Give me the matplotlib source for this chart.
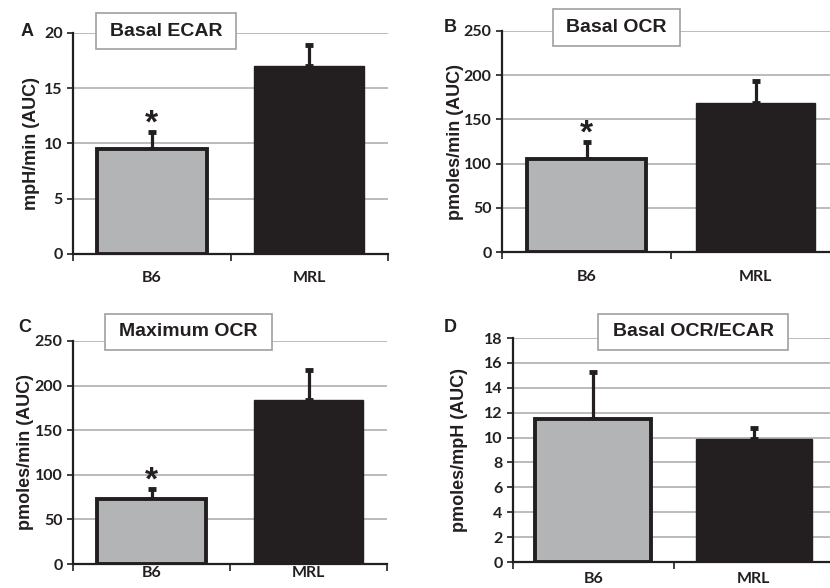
import matplotlib
matplotlib.use("Agg")
import matplotlib.pyplot as plt
from matplotlib.patches import Rectangle

W, H = 830, 588

groups = ["B6", "MRL"]

ecar_mean = [9.5, 17.0]
ecar_err = [1.5, 1.9]

ocr_mean = [105, 168]
ocr_err = [19, 26]

max_ocr_mean = [73, 184]
max_ocr_err = [11, 33]

ratio_mean = [11.5, 9.9]
ratio_err = [3.8, 0.9]

GRAY = "#b3b4b6"
DARK = "#231f20"
TICKFONT = "Lato"
ARIAL = "Liberation Sans"


def px_axes(fig, x0, x1, y_top, y_bot):
    return fig.add_axes([x0 / W, 1 - y_bot / H, (x1 - x0) / W, (y_bot - y_top) / H])


def title_box(fig, x0, x1, y0, y1, text):
    fig.patches.append(Rectangle((x0 / W, 1 - y1 / H), (x1 - x0) / W, (y1 - y0) / H,
                                 transform=fig.transFigure, facecolor="white",
                                 edgecolor="#a0a0a0", lw=1.2, zorder=5))
    fig.text((x0 + x1) / 2 / W, 1 - (y0 + y1) / 2 / H, text, ha="center", va="center",
             fontsize=14, fontweight="bold", family=ARIAL, color=DARK, zorder=6)


def panel(ax, means, errs, ymax, ystep, ylabel, width, star, xpad, label_x):
    ax.set_xlim(-0.5, 1.5)
    ax.set_ylim(0, ymax)
    ax.set_yticks(range(0, int(ymax) + 1, ystep))
    ax.yaxis.grid(True, color="#a8a8a8", lw=1.1)
    ax.set_axisbelow(True)
    for s in ["top", "right"]:
        ax.spines[s].set_visible(False)
    for s in ["left", "bottom"]:
        ax.spines[s].set_linewidth(1.6)
        ax.spines[s].set_color(DARK)
    x = [0, 1]
    ax.bar(x[0], means[0], width, color=GRAY, edgecolor=DARK, lw=2.8, zorder=3)
    ax.bar(x[1], means[1], width, color=DARK, edgecolor=DARK, lw=1, zorder=3)
    ax.errorbar(x, means, yerr=[[0, 0], errs], fmt="none", ecolor=DARK,
                elinewidth=2.3, capsize=3, capthick=3.5, zorder=2)
    if star:
        ax.annotate("*", (0, means[0] + errs[0]), xytext=(0, 0), textcoords="offset points",
                    ha="center", va="baseline", fontsize=24, fontweight="bold",
                    family=ARIAL, color=DARK, zorder=4)
    ax.set_xticks([-0.5, 0.5, 1.5])
    ax.set_xticklabels([])
    ax.tick_params(axis="x", which="major", length=5, width=1.2, direction="out", color=DARK)
    ax.set_xticks(x, minor=True)
    ax.set_xticklabels(groups, minor=True, fontsize=11.5, fontweight="bold",
                       family=TICKFONT, color=DARK)
    ax.tick_params(axis="x", which="minor", length=0, pad=xpad)
    ax.tick_params(axis="y", length=4, width=1.2, direction="out", color=DARK)
    for t in ax.get_yticklabels():
        t.set_fontsize(11.5)
        t.set_fontweight("bold")
        t.set_family(TICKFONT)
        t.set_color(DARK)
    ax.set_ylabel(ylabel, fontsize=13, fontweight="bold", family=ARIAL, color=DARK)
    ax.yaxis.label.set_verticalalignment("center")
    ax.yaxis.set_label_coords(label_x, 0.5)


fig = plt.figure(figsize=(W / 100, H / 100), dpi=100)

axA = px_axes(fig, 73, 388, 33, 254)
panel(axA, ecar_mean, ecar_err, 20, 5, "mpH/min (AUC)", 0.70, True, 12, (32 - 73) / 315)

axB = px_axes(fig, 502, 840, 31, 252)
panel(axB, ocr_mean, ocr_err, 250, 50, "pmoles/min (AUC)", 0.71, True, 13, (455 - 502) / 338)

axC = px_axes(fig, 73, 387, 341, 564)
panel(axC, max_ocr_mean, max_ocr_err, 250, 50, "pmoles/min (AUC)", 0.70, True, 1.5, (26 - 73) / 314)

axD = px_axes(fig, 513, 834, 338, 562)
panel(axD, ratio_mean, ratio_err, 18, 2, "pmoles/mpH (AUC)", 0.72, False, 7, (460 - 513) / 321)

title_box(fig, 96, 236, 13, 49, "Basal ECAR")
title_box(fig, 553, 680, 9, 46, "Basal OCR")
title_box(fig, 105, 272, 314, 350, "Maximum OCR")
title_box(fig, 598, 788, 314, 350, "Basal OCR/ECAR")

for lx, ly, lab in [(27, 31, "A"), (450, 28, "B"), (25, 327, "C"), (450, 327, "D")]:
    fig.text(lx / W, 1 - ly / H, lab, ha="center", va="center", fontsize=13,
             fontweight="bold", family=ARIAL, color=DARK)

fig.savefig("out.png", dpi=100)
